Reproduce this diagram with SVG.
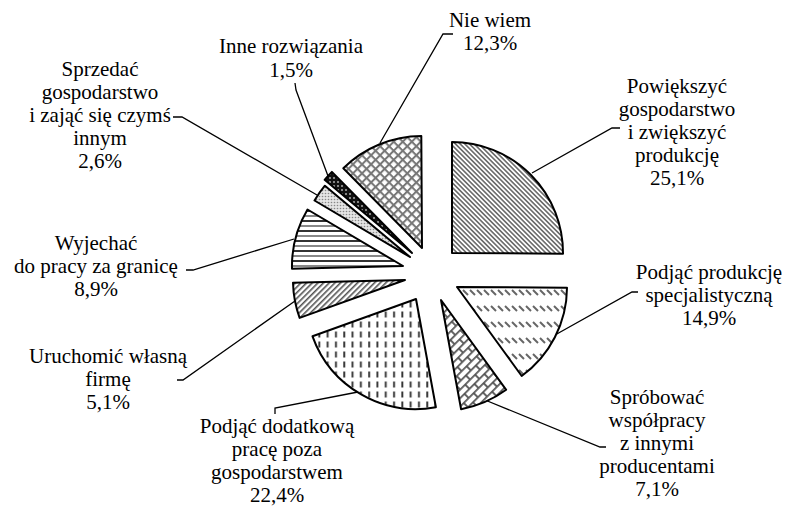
<svg xmlns="http://www.w3.org/2000/svg" width="786" height="506" viewBox="0 0 786 506">
<style>
.lbl{font-family:"Liberation Serif","Times New Roman",serif;font-size:21px;fill:#000;text-anchor:middle}
.slice{stroke:#000;stroke-width:2;stroke-linejoin:round}
.lead{fill:none;stroke:#000;stroke-width:1.3}
</style>
<defs>
<pattern id="pDiag" width="3.3" height="3.3" patternUnits="userSpaceOnUse" patternTransform="rotate(45)">
<rect width="3.3" height="3.3" fill="#fff"/><rect width="3.3" height="1.6" fill="#6a6a6a"/>
</pattern>
<pattern id="pDashDiag" width="7" height="16" patternUnits="userSpaceOnUse">
<rect width="7" height="16" fill="#fff"/><path d="M1,2 L6,7" stroke="#666" stroke-width="2"/>
</pattern>
<pattern id="pBrick" width="14" height="12" patternUnits="userSpaceOnUse" patternTransform="rotate(-45)">
<rect width="14" height="12" fill="#fff"/><path d="M0,0.9 H14 M0,6.9 H14 M1,0.9 V6.9 M8,6.9 V12.9" stroke="#555" stroke-width="1.8" fill="none"/>
</pattern>
<pattern id="pVDash" width="8.3" height="10" patternUnits="userSpaceOnUse">
<rect width="8.3" height="10" fill="#fff"/><rect x="3" y="1.5" width="1.9" height="6" fill="#333"/>
</pattern>
<pattern id="pUp" width="4" height="4" patternUnits="userSpaceOnUse" patternTransform="rotate(-45)">
<rect width="4" height="4" fill="#fff"/><rect width="4" height="1.6" fill="#555"/>
</pattern>
<pattern id="pHoriz" width="10" height="10" patternUnits="userSpaceOnUse">
<rect width="10" height="10" fill="#fff"/><rect y="0" width="10" height="2" fill="#333"/><rect y="5" width="10" height="2" fill="#888"/>
</pattern>
<pattern id="pDots" width="3" height="3" patternUnits="userSpaceOnUse">
<rect width="3" height="3" fill="#e4e4e4"/><circle cx="1.5" cy="1.5" r="0.8" fill="#888"/>
</pattern>
<pattern id="pDark" width="4" height="4" patternUnits="userSpaceOnUse">
<rect width="4" height="4" fill="#111"/><circle cx="2" cy="2" r="1" fill="#aaa"/>
</pattern>
<pattern id="pCross" width="6.4" height="6.4" patternUnits="userSpaceOnUse" patternTransform="rotate(45)">
<rect width="6.4" height="6.4" fill="#fff"/><path d="M0,1 H6.4 M1,0 V6.4" stroke="#777" stroke-width="2" fill="none"/>
</pattern>
</defs>

<g id="connectors">
<path class="lead" d="M453,34 H443 L380,143"/>
<path class="lead" d="M295,83 L296,90 L328,176"/>
<path class="lead" d="M173,117 H182 L317,195"/>
<path class="lead" d="M620,128 H612 L532,173"/>
<path class="lead" d="M638,292 H632 L555,335"/>
<path class="lead" d="M606,447 H600 L485,400"/>
<path class="lead" d="M358,392 L275,408 V414"/>
<path class="lead" d="M295,301 L183,380 H177"/>
<path class="lead" d="M186,270 H193 L294,239"/>
</g>

<g id="powiekszyc">
<path class="slice" fill="url(#pDiag)" d="M452,253 L452,142 A111,111 0 0 1 563,253.7 Z"/>
<text class="lbl" x="677" y="93">Powiększyć</text>
<text class="lbl" x="677" y="116">gospodarstwo</text>
<text class="lbl" x="677" y="139">i zwiększyć</text>
<text class="lbl" x="677" y="162">produkcję</text>
<text class="lbl" x="677" y="185">25,1%</text>
</g>

<g id="specjalistyczna">
<path class="slice" fill="url(#pDashDiag)" d="M457,287 L567,287.7 A110,110 0 0 1 521.7,376 Z"/>
<text class="lbl" x="709" y="279">Podjąć produkcję</text>
<text class="lbl" x="709" y="302">specjalistyczną</text>
<text class="lbl" x="709" y="325">14,9%</text>
</g>

<g id="wspolpraca">
<path class="slice" fill="url(#pBrick)" d="M441,300 L506.2,389.8 A111,111 0 0 1 461.1,409.2 Z"/>
<text class="lbl" x="657" y="404">Spróbować</text>
<text class="lbl" x="657" y="427">współpracy</text>
<text class="lbl" x="657" y="450">z innymi</text>
<text class="lbl" x="657" y="473">producentami</text>
<text class="lbl" x="657" y="496">7,1%</text>
</g>

<g id="dodatkowa">
<path class="slice" fill="url(#pVDash)" d="M416,299 L435.9,407.2 A110,110 0 0 1 312.5,336.3 Z"/>
<text class="lbl" x="277" y="433">Podjąć dodatkową</text>
<text class="lbl" x="277" y="456">pracę poza</text>
<text class="lbl" x="277" y="479">gospodarstwem</text>
<text class="lbl" x="277" y="502">22,4%</text>
</g>

<g id="firma">
<path class="slice" fill="url(#pUp)" d="M405,280 L299.6,317.9 A112,112 0 0 1 293,282.8 Z"/>
<text class="lbl" x="108" y="363">Uruchomić własną</text>
<text class="lbl" x="108" y="386">firmę</text>
<text class="lbl" x="108" y="409">5,1%</text>
</g>

<g id="granica">
<path class="slice" fill="url(#pHoriz)" d="M403,266 L292,268.8 A111,111 0 0 1 307.5,209.5 Z"/>
<text class="lbl" x="96" y="250">Wyjechać</text>
<text class="lbl" x="96" y="273">do pracy za granicę</text>
<text class="lbl" x="96" y="296">8,9%</text>
</g>

<g id="sprzedac">
<path class="slice" fill="url(#pDots)" d="M410,257 L314.5,200.5 A111,111 0 0 1 324.9,185.7 Z"/>
<text class="lbl" x="100" y="76">Sprzedać</text>
<text class="lbl" x="100" y="99">gospodarstwo</text>
<text class="lbl" x="100" y="122">i zająć się czymś</text>
<text class="lbl" x="100" y="145">innym</text>
<text class="lbl" x="100" y="168">2,6%</text>
</g>

<g id="inne">
<path class="slice" fill="url(#pDark)" d="M412,253 L324.6,179.8 A114,114 0 0 1 331.9,171.9 Z"/>
<text class="lbl" x="291" y="53">Inne rozwiązania</text>
<text class="lbl" x="291" y="77">1,5%</text>
</g>

<g id="niewiem">
<path class="slice" fill="url(#pCross)" d="M422,248 L343.3,168.3 A112,112 0 0 1 421.3,136 Z"/>
<text class="lbl" x="490" y="27">Nie wiem</text>
<text class="lbl" x="490" y="50">12,3%</text>
</g>
</svg>
